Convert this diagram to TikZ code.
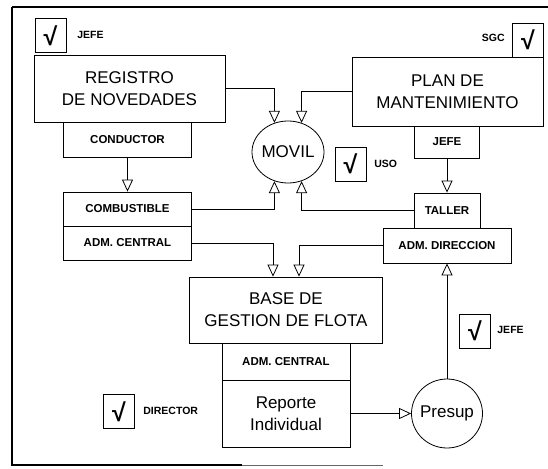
\documentclass[tikz,border=0pt]{standalone}
\usepackage{fontspec}
\setmainfont{Liberation Sans}
\usepackage{tikz}
\usetikzlibrary{arrows.meta,shapes.geometric}

\begin{document}
\begin{tikzpicture}[x=1pt, y=-1pt, line width=0.8pt, >={Triangle[open, length=12pt, width=11pt]},
	box/.style={draw, inner sep=0pt, align=center, font=\fontsize{17}{22}\selectfont},
	tag/.style={draw, inner sep=0pt, font=\fontsize{11.5}{13}\selectfont\bfseries},
	oval/.style={draw, ellipse, inner sep=0pt, inner xsep=-6pt, font=\fontsize{17}{20}\selectfont},
	chk/.style={draw, minimum width=31pt, minimum height=34pt, inner sep=0pt, font=\fontsize{25}{25}\selectfont\bfseries},
	lbl/.style={inner sep=0pt, font=\fontsize{10.5}{12}\selectfont\bfseries}]
	\useasboundingbox (0,0) rectangle (548,468);
	\draw[line width=2.5pt] (12,7) -- (12,466);
	\draw[line width=1.2pt] (12,7) -- (548,7);
	\draw[line width=1.2pt] (12,465) -- (242,465);
	\draw[line width=0.6pt, black!60] (242,465) -- (383,465);
	\node[box, minimum width=191pt, minimum height=67pt] (reg) at (129.5,88.5) {REGISTRO\\DE NOVEDADES};
	\node[tag, minimum width=128pt, minimum height=35pt] (cond) at (127.5,139.5) {CONDUCTOR};
	\node[box, minimum width=191pt, minimum height=69pt] (plan) at (447.5,91.5) {PLAN DE\\MANTENIMIENTO};
	\node[tag, minimum width=65pt, minimum height=32pt] (jefe) at (447,142) {JEFE};
	\node[oval, minimum width=72pt, minimum height=62pt] (movil) at (288,152) {MOVIL};
	\node[tag, minimum width=66pt, minimum height=35pt] (taller) at (447,210.5) {TALLER};
	\node[tag, minimum width=128pt, minimum height=35pt] (admdir) at (447,245.5) {ADM. DIRECCION};
	\node[tag, minimum width=128pt, minimum height=34pt] (comb) at (127.5,209) {COMBUSTIBLE};
	\node[tag, minimum width=128pt, minimum height=34pt] (admcen) at (127.5,243) {ADM. CENTRAL};
	\node[box, minimum width=193pt, minimum height=66pt] (base) at (286,310) {BASE DE\\GESTION DE FLOTA};
	\node[tag, minimum width=128pt, minimum height=37pt] (admbase) at (286,361.5) {ADM. CENTRAL};
	\node[box, minimum width=128pt, minimum height=67pt] (rep) at (286,413.5) {Reporte\\Individual};
	\node[oval, minimum width=71pt, minimum height=69pt] (presup) at (447,413.5) {Presup};
	\node[chk] (chkreg) at (50.5,35.5) {√};
	\node[lbl, anchor=west] (lblreg) at (77,35) {JEFE};
	\node[chk] (chkplan) at (528,40) {√};
	\node[lbl, anchor=east] (lblplan) at (505,38) {SGC};
	\node[chk] (chkmovil) at (350.5,164) {√};
	\node[lbl, anchor=west] (lblmovil) at (374,164) {USO};
	\node[chk] (chkpres) at (475,331) {√};
	\node[lbl, anchor=west] (lblpres) at (497,330) {JEFE};
	\node[chk] (chkrep) at (119,411.5) {√};
	\node[lbl, anchor=west] (lblrep) at (143,411) {DIRECTOR};
	\draw[->] (reg.east) -| (movil.115);
	\draw[->] (plan.west) -| (movil.65);
	\draw[->] (comb.east) -| (movil.245);
	\draw[->] (taller.west) -| (movil.295);
	\draw[->] (cond) -- (comb);
	\draw[->] (jefe) -- (taller);
	\draw[->] (admcen.east) -| ([xshift=-13pt]base.north);
	\draw[->] (admdir.west) -| ([xshift=13pt]base.north);
	\draw[->] (rep) -- (presup);
	\draw[->] (presup) -- (admdir);
\end{tikzpicture}
\end{document}
